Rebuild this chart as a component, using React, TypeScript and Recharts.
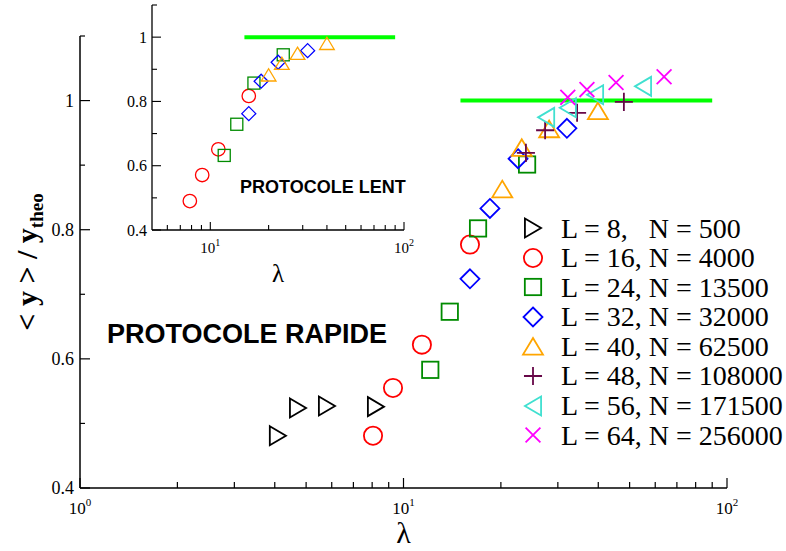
import React from 'react';
import { ScatterChart, Scatter, XAxis, YAxis, ReferenceLine, Legend, Label } from 'recharts';

// ---------- data (main panel: PROTOCOLE RAPIDE) ----------
const l8X = [4.09, 4.72, 5.8, 8.22];
const l8Y = [0.481, 0.524, 0.527, 0.526];
const l16X = [8.05, 9.28, 11.4, 16.05];
const l16Y = [0.481, 0.555, 0.622, 0.777];
const l24X = [12.1, 13.9, 17.0, 24.1];
const l24Y = [0.583, 0.673, 0.802, 0.901];
const l32X = [16.05, 18.5, 22.6, 32.0];
const l32Y = [0.724, 0.833, 0.91, 0.957];
const l40X = [20.2, 23.2, 28.2, 39.9];
const l40Y = [0.862, 0.926, 0.955, 0.983];
const l48X = [23.9, 27.4, 34.4, 48.0];
const l48Y = [0.919, 0.954, 0.981, 0.998];
const l56X = [27.6, 32.2, 39.1, 55.0];
const l56Y = [0.974, 0.989, 1.009, 1.022];
const l64X = [32.2, 36.9, 45.4, 63.9];
const l64Y = [1.005, 1.017, 1.028, 1.037];

// ---------- data (inset: PROTOCOLE LENT) ----------
const in16X = [7.84, 9.08, 11.0, 15.8];
const in16Y = [0.49, 0.571, 0.651, 0.817];
const in24X = [11.8, 13.7, 16.8, 23.8];
const in24Y = [0.632, 0.729, 0.857, 0.945];
const in32X = [15.8, 18.3, 22.4, 31.8];
const in32Y = [0.762, 0.863, 0.922, 0.958];
const in40X = [20.0, 23.4, 28.2, 40.0];
const in40Y = [0.881, 0.917, 0.948, 0.979];

// reference line y = 1
const fitLineX = [15, 90];
const fitLineY = 1;

// ---------- ticks / labels ----------
const mainTicksX = [1, 2, 3, 4, 5, 6, 7, 8, 9, 10, 20, 30, 40, 50, 60, 70, 80, 90, 100];
const insetTicksX = [6, 7, 8, 9, 10, 20, 30, 40, 50, 60, 70, 80, 90, 100];
const yTicks = [0.4, 0.5, 0.6, 0.7, 0.8, 0.9, 1.0, 1.1];
const legendLabels = [
  'L = 8,   N = 500',
  'L = 16, N = 4000',
  'L = 24, N = 13500',
  'L = 32, N = 32000',
  'L = 40, N = 62500',
  'L = 48, N = 108000',
  'L = 56, N = 171500',
  'L = 64, N = 256000',
];

const SERIF = '"Liberation Serif", "Times New Roman", serif';
const SANS = '"Liberation Sans", Arial, sans-serif';

const zip = (xs: number[], ys: number[]) => xs.map((x, i) => ({ x, y: ys[i] }));

type Kind = 'triR' | 'circle' | 'square' | 'diamond' | 'triUp' | 'plus' | 'triL' | 'cross';

const mainSeries: { kind: Kind; color: string; data: { x: number; y: number }[] }[] = [
  { kind: 'triR', color: '#000000', data: zip(l8X, l8Y) },
  { kind: 'circle', color: '#ff0000', data: zip(l16X, l16Y) },
  { kind: 'square', color: '#008b00', data: zip(l24X, l24Y) },
  { kind: 'diamond', color: '#0000ff', data: zip(l32X, l32Y) },
  { kind: 'triUp', color: '#ffa500', data: zip(l40X, l40Y) },
  { kind: 'plus', color: '#670748', data: zip(l48X, l48Y) },
  { kind: 'triL', color: '#40e0d0', data: zip(l56X, l56Y) },
  { kind: 'cross', color: '#ff00ff', data: zip(l64X, l64Y) },
];

const insetSeries: { kind: Kind; color: string; data: { x: number; y: number }[] }[] = [
  { kind: 'circle', color: '#ff0000', data: zip(in16X, in16Y) },
  { kind: 'square', color: '#008b00', data: zip(in24X, in24Y) },
  { kind: 'diamond', color: '#0000ff', data: zip(in32X, in32Y) },
  { kind: 'triUp', color: '#ffa500', data: zip(in40X, in40Y) },
];

function Marker({ kind, cx, cy, s, color, sw }: { kind: Kind; cx: number; cy: number; s: number; color: string; sw: number }) {
  const h = s / 2;
  const common = { fill: 'none', stroke: color, strokeWidth: sw };
  switch (kind) {
    case 'triR':
      return <polygon {...common} points={`${cx - h * 0.85},${cy - h} ${cx + h * 0.85},${cy} ${cx - h * 0.85},${cy + h}`} />;
    case 'triL':
      return <polygon {...common} points={`${cx + h * 0.85},${cy - h} ${cx - h * 0.85},${cy} ${cx + h * 0.85},${cy + h}`} />;
    case 'circle':
      return <circle {...common} cx={cx} cy={cy} r={h * 0.96} />;
    case 'square':
      return <rect {...common} x={cx - h * 0.86} y={cy - h * 0.86} width={h * 1.72} height={h * 1.72} />;
    case 'diamond':
      return <polygon {...common} points={`${cx},${cy - h} ${cx + h},${cy} ${cx},${cy + h} ${cx - h},${cy}`} />;
    case 'triUp':
      return <polygon {...common} points={`${cx},${cy - h * 0.95} ${cx + h * 1.05},${cy + h * 0.8} ${cx - h * 1.05},${cy + h * 0.8}`} />;
    case 'plus':
      return <path {...common} d={`M${cx - h * 0.95},${cy} H${cx + h * 0.95} M${cx},${cy - h * 0.95} V${cy + h * 0.95}`} />;
    case 'cross':
    default:
      return <path {...common} d={`M${cx - h * 0.78},${cy - h * 0.78} L${cx + h * 0.78},${cy + h * 0.78} M${cx + h * 0.78},${cy - h * 0.78} L${cx - h * 0.78},${cy + h * 0.78}`} />;
  }
}

const isPow10 = (v: number) => Math.abs(Math.log10(v) - Math.round(Math.log10(v))) < 1e-9;
const isMajorY = (v: number) => Math.round(v * 10) % 2 === 0;
const fmtY = (v: number) => (Math.abs(v - 1) < 1e-9 ? '1' : v.toFixed(1));

const MainXTick = (props: any) => {
  const { x, y, payload } = props;
  const v = payload.value;
  const major = isPow10(v);
  return (
    <g>
      <line x1={x} x2={x} y1={y} y2={y - (major ? 10 : 6)} stroke="#000" strokeWidth={1.2} />
      {major && (
        <text x={x} y={y + 26} textAnchor="middle" fontFamily={SERIF} fontSize={17} fill="#000">
          10<tspan dy={-8} fontSize={11}>{Math.round(Math.log10(v))}</tspan>
        </text>
      )}
    </g>
  );
};

const MainYTick = (props: any) => {
  const { x, y, payload } = props;
  const v = payload.value;
  const major = isMajorY(v);
  return (
    <g>
      <line x1={x} x2={x + (major ? 10 : 5)} y1={y} y2={y} stroke="#000" strokeWidth={1.2} />
      {major && (
        <text x={x - 6} y={y + 6} textAnchor="end" fontFamily={SERIF} fontSize={18} fill="#000">
          {fmtY(v)}
        </text>
      )}
    </g>
  );
};

const InsetXTick = (props: any) => {
  const { x, y, payload } = props;
  const v = payload.value;
  const major = isPow10(v);
  return (
    <g>
      <line x1={x} x2={x} y1={y} y2={y - (major ? 8 : 5)} stroke="#000" strokeWidth={1.1} />
      {major && (
        <text x={x} y={y + 23} textAnchor="middle" fontFamily={SERIF} fontSize={15} fill="#000">
          10<tspan dy={-7} fontSize={10}>{Math.round(Math.log10(v))}</tspan>
        </text>
      )}
    </g>
  );
};

const InsetYTick = (props: any) => {
  const { x, y, payload } = props;
  const v = payload.value;
  const major = isMajorY(v);
  return (
    <g>
      <line x1={x} x2={x + (major ? 9 : 5)} y1={y} y2={y} stroke="#000" strokeWidth={1.1} />
      {major && (
        <text x={x - 5} y={y + 5.5} textAnchor="end" fontFamily={SERIF} fontSize={16} fill="#000">
          {fmtY(v)}
        </text>
      )}
    </g>
  );
};

const renderLegend = () => (
  <div style={{ fontFamily: SERIF, fontSize: 28, color: '#000' }}>
    {mainSeries.map((s, i) => (
      <div key={i} style={{ display: 'flex', alignItems: 'center', height: 29.6, lineHeight: '29.6px', whiteSpace: 'pre' }}>
        <svg width={26} height={26} style={{ flex: 'none' }}>
          <Marker kind={s.kind} cx={13} cy={13} s={19} color={s.color} sw={1.8} />
        </svg>
        <span style={{ marginLeft: 15 }}>{legendLabels[i]}</span>
      </div>
    ))}
  </div>
);

export default function App() {
  return (
    <div style={{ position: 'absolute', left: 0, top: 0, width: 786, height: 551, background: '#fff', overflow: 'hidden' }}>
      <div style={{ position: 'absolute', left: 0, top: 0 }}>
        <ScatterChart width={786} height={551} margin={{ top: 36, right: 59, bottom: 33, left: 40 }}>
          <XAxis
            type="number"
            dataKey="x"
            scale="log"
            domain={[1, 100]}
            allowDataOverflow
            ticks={mainTicksX}
            interval={0}
            tick={MainXTick}
            tickLine={false}
            tickSize={0}
            tickMargin={0}
            height={30}
            axisLine={{ stroke: '#000', strokeWidth: 1.5 }}
          >
            <Label
              content={(p: any) => (
                <text x={p.viewBox.x + p.viewBox.width / 2} y={p.viewBox.y + 55} textAnchor="middle" fontFamily={SERIF} fontSize={30} fill="#000">
                  λ
                </text>
              )}
            />
          </XAxis>
          <YAxis
            type="number"
            dataKey="y"
            domain={[0.4, 1.1]}
            allowDataOverflow
            ticks={yTicks}
            interval={0}
            tick={MainYTick}
            tickLine={false}
            tickSize={0}
            tickMargin={0}
            width={40}
            axisLine={{ stroke: '#000', strokeWidth: 1.5 }}
          >
            <Label
              content={(p: any) => {
                const cx = p.viewBox.x - 3;
                const cy = p.viewBox.y + p.viewBox.height / 2;
                return (
                  <text
                    x={cx}
                    y={cy}
                    transform={`rotate(-90 ${cx} ${cy})`}
                    textAnchor="middle"
                    fontFamily={SERIF}
                    fontWeight="bold"
                    fontSize={30}
                    fill="#000"
                  >
                    {'< y > / y'}
                    <tspan dy={6} fontSize={19}>theo</tspan>
                  </text>
                );
              }}
            />
          </YAxis>
          {mainSeries.map((s, i) => (
            <Scatter
              key={i}
              name={legendLabels[i]}
              data={s.data}
              isAnimationActive={false}
              shape={(p: any) => <Marker kind={s.kind} cx={p.cx} cy={p.cy} s={19} color={s.color} sw={1.8} />}
            />
          ))}
          <ReferenceLine
            segment={[{ x: fitLineX[0], y: fitLineY }, { x: fitLineX[1], y: fitLineY }]}
            stroke="#00ff00"
            strokeWidth={4}
            ifOverflow="visible"
          />
          <Legend
            content={renderLegend}
            layout="horizontal"
            verticalAlign="middle"
            align="center"
            wrapperStyle={{ left: 520, top: 213.5, width: 266, height: 237 }}
          />
        </ScatterChart>
      </div>

      <div style={{ position: 'absolute', left: 100, top: 0 }}>
        <ScatterChart width={340} height={290} margin={{ top: 5, right: 36, bottom: 30, left: 22 }}>
          <XAxis
            type="number"
            dataKey="x"
            scale="log"
            domain={[5, 100]}
            allowDataOverflow
            ticks={insetTicksX}
            interval={0}
            tick={InsetXTick}
            tickLine={false}
            tickSize={0}
            tickMargin={0}
            height={30}
            axisLine={{ stroke: '#000', strokeWidth: 1.3 }}
          >
            <Label
              content={(p: any) => (
                <text x={p.viewBox.x + p.viewBox.width / 2} y={p.viewBox.y + 52} textAnchor="middle" fontFamily={SERIF} fontSize={25} fill="#000">
                  λ
                </text>
              )}
            />
          </XAxis>
          <YAxis
            type="number"
            dataKey="y"
            domain={[0.4, 1.1]}
            allowDataOverflow
            ticks={yTicks}
            interval={0}
            tick={InsetYTick}
            tickLine={false}
            tickSize={0}
            tickMargin={0}
            width={30}
            axisLine={{ stroke: '#000', strokeWidth: 1.3 }}
          />
          {insetSeries.map((s, i) => (
            <Scatter
              key={i}
              data={s.data}
              isAnimationActive={false}
              shape={(p: any) => <Marker kind={s.kind} cx={p.cx} cy={p.cy} s={14} color={s.color} sw={1.3} />}
            />
          ))}
          <ReferenceLine
            segment={[{ x: fitLineX[0], y: fitLineY }, { x: fitLineX[1], y: fitLineY }]}
            stroke="#00ff00"
            strokeWidth={4}
            ifOverflow="visible"
          />
        </ScatterChart>
      </div>

      <svg width={786} height={551} style={{ position: 'absolute', left: 0, top: 0, pointerEvents: 'none' }}>
        <text x={107} y={343} fontFamily={SANS} fontWeight="bold" fontSize={27} fill="#000">
          PROTOCOLE RAPIDE
        </text>
        <text x={240} y={193} fontFamily={SANS} fontWeight="bold" fontSize={18} fill="#000">
          PROTOCOLE LENT
        </text>
      </svg>
    </div>
  );
}
